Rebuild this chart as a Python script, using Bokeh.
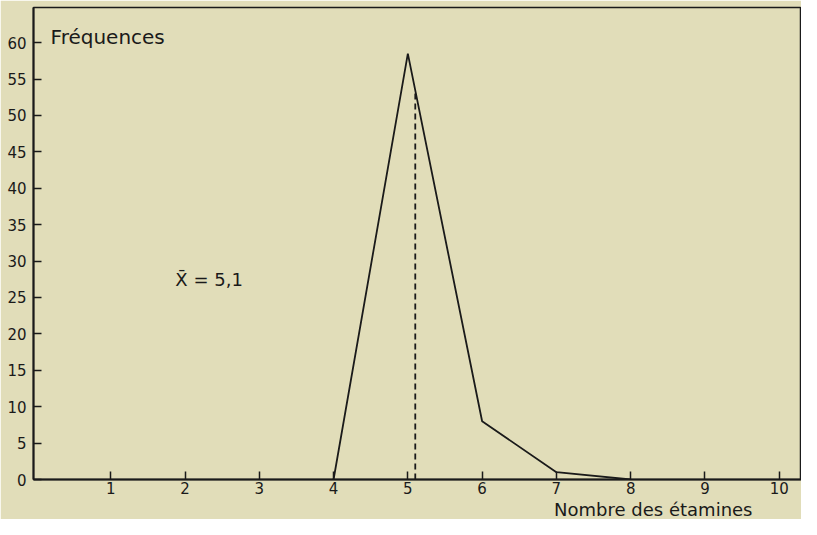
from bokeh.plotting import figure
from bokeh.models import Label, Range1d, FixedTicker, Title
from bokeh.embed import file_html
from bokeh.resources import INLINE

# data
etamines = [4, 5, 6, 7, 8]
frequences = [0, 58.5, 8, 1, 0]
moyenne = 5.1
moyenne_freq = 53.4
x_ticks = [1, 2, 3, 4, 5, 6, 7, 8, 9, 10]
y_ticks = [0, 5, 10, 15, 20, 25, 30, 35, 40, 45, 50, 55, 60]

BG = "#e1ddb9"
FONT = "DejaVu Sans"
INK = "#1a1a1a"

p = figure(width=801, height=519, output_backend="svg", toolbar_location=None,
           x_range=Range1d(-0.04, 10.30), y_range=Range1d(0, 64.83),
           min_border_left=33, min_border_right=0, min_border_top=7, min_border_bottom=0)
p.background_fill_color = BG
p.border_fill_color = BG
p.outline_line_color = INK
p.outline_line_width = 1.5
p.grid.visible = False

for ax in (p.xaxis, p.yaxis):
    ax.axis_line_color = INK
    ax.axis_line_width = 2
    ax.major_tick_in = 8
    ax.major_tick_out = 0
    ax.major_tick_line_color = INK
    ax.major_tick_line_width = 1.5
    ax.minor_tick_line_color = None
    ax.major_label_text_font = FONT
    ax.major_label_text_font_size = "15px"
    ax.major_label_text_color = INK

p.xaxis.ticker = FixedTicker(ticks=x_ticks)
p.yaxis.ticker = FixedTicker(ticks=y_ticks)
p.xaxis.major_label_standoff = 2
p.yaxis.major_label_standoff = 7

p.line(etamines, frequences, line_color=INK, line_width=1.8)
p.line([moyenne, moyenne], [0, moyenne_freq], line_color=INK, line_width=1.8,
       line_dash="6 4")

p.add_layout(Label(x=0.19, y=60.8, text="Fréquences", text_font=FONT,
                   text_font_size="20px", text_color=INK, text_baseline="middle"))
p.add_layout(Label(x=1.87, y=27.5, text="X\u0304 = 5,1", text_font=FONT,
                   text_font_size="18px", text_color=INK, text_baseline="middle"))
p.add_layout(Title(text="Nombre des étamines", text_font=FONT, text_font_size="18px",
                   text_font_style="normal", text_color=INK, align="right",
                   offset=49, standoff=0), "below")

open("out.html", "w").write(file_html(p, INLINE))
